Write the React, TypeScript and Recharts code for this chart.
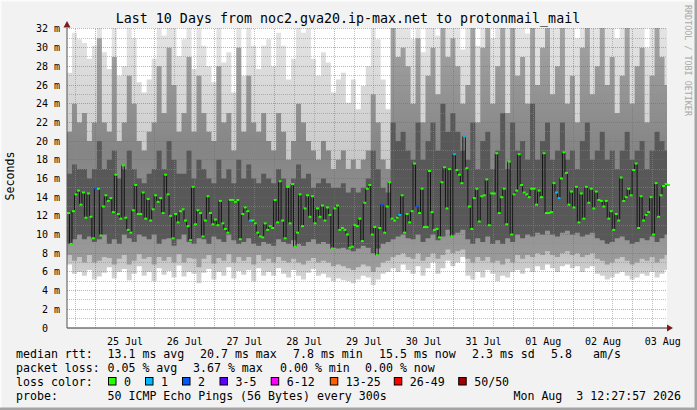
import React from 'react';
import {
  ComposedChart,
  Area,
  Line,
  XAxis,
  YAxis,
  CartesianGrid,
  ReferenceLine,
} from 'recharts';

// median rtt per hourly sample (ms), Jul 24 ~13:00 -> Aug 3 ~13:00
const medianRtt = [
  12.3, 9.0, 12.5, 14.3, 14.7, 13.2, 14.5, 11.8, 14.4, 11.9, 9.6, 14.9, 14.9, 9.9, 13.0, 14.2, 13.6, 13.9, 12.4, 16.4,
  12.2, 11.7, 17.4, 11.8, 10.5, 10.2, 12.6, 15.3, 12.2, 12.2, 14.5, 11.7, 13.8, 11.5, 12.7, 14.2, 13.5, 13.9, 12.3, 16.4,
  14.3, 12.0, 9.6, 12.2, 11.3, 12.5, 12.7, 11.5, 10.9, 9.4, 15.1, 11.1, 12.6, 12.3, 9.8, 11.5, 14.1, 12.3, 11.1, 11.6,
  11.0, 13.6, 11.2, 10.6, 10.2, 13.7, 13.7, 13.5, 13.7, 9.5, 12.2, 12.9, 12.5, 11.5, 11.5, 11.2, 10.2, 9.8, 9.7, 11.2,
  10.5,
  10.9, 10.7, 13.7, 11.3, 15.7, 11.5, 9.6, 15.1, 11.2, 15.4, 8.7, 10.2, 14.3, 10.9, 12.8, 14.2, 11.9, 14.1, 11.2,
  12.8, 11.9, 13.1, 11.5, 12.9, 12.1, 8.5, 12.8, 13.1, 10.5, 10.7, 10.5, 10.0, 8.6, 8.7, 11.0, 10.9, 11.7, 9.3, 13.4,
  14.9, 15.3, 10.0, 10.8, 7.8, 10.7, 13.2, 10.2, 13.0, 15.6, 11.7, 11.5, 11.8, 12.1, 14.2, 10.2, 12.2, 11.3, 12.5, 17.6,
  13.0, 12.3, 14.9, 10.8, 10.8, 16.8, 12.4, 10.5, 10.6, 9.7, 15.6, 17.2, 12.8, 17.0, 9.8, 18.6, 16.9, 16.4, 15.5, 20.5,
  17.1,
  13.0, 10.6, 13.9, 14.9, 11.4, 14.1, 14.2, 15.9, 11.0, 14.4, 14.4, 18.7, 12.3, 14.0, 14.9, 11.1, 17.8, 10.0, 14.3, 14.7,
  18.6, 15.3, 14.5, 14.3, 14.0, 14.9, 14.9, 13.2, 14.7, 14.0, 18.7, 12.3, 12.3, 12.4, 15.5, 14.5, 13.9, 16.0, 18.8, 16.6,
  13.2, 14.6, 12.9, 15.1, 11.3, 14.4, 11.7, 15.1, 13.4, 14.9, 12.8, 14.6, 13.7, 13.6, 13.0, 13.6, 11.7, 12.5, 10.5, 12.2,
  11.5, 16.1, 13.6, 14.0, 14.9, 14.2, 16.9, 17.6, 10.7, 14.1, 11.5, 12.1, 12.4, 14.0, 10.0, 15.5, 11.9, 14.2, 15.2, 15.4,
  15.3,
];

// samples with lost pings (index into medianRtt) and how many of 50 were lost
const lossSample = [11, 73, 126, 133, 140, 155, 159, 196, 197];
const lossPings = [2, 1, 2, 1, 2, 1, 1, 1, 1];

// smoke, one column per two samples (ms)
const smokeMax = [
  27.3, 31.6, 30.9, 30.5, 28.8, 30.2, 32.1, 29.5, 27.7, 32.1, 27, 28, 32.1, 31, 26.3, 25.2, 26.6, 28.8, 32.1, 31.3,
  32.1, 32.1, 29.1, 30.9, 32.1, 27.7, 32.1, 30.2, 28, 26.3, 32.1, 28.4, 29.5, 25.2, 32.1, 27, 32.1, 30.2, 27.7, 30.2,
  30.9, 28, 31.6, 30.2, 26.6, 28.8, 32.1, 31.6, 32.1, 28.8, 27, 29.5, 28.4, 25.2, 26.6, 27.3, 24.1, 26.6, 23.4, 25.9,
  28, 32.1, 30.9, 26.6, 23.4, 32.1, 32.1, 32.1, 32.1, 30.9, 32.1, 29.5, 32.1, 32.1, 31.3, 32.1, 32.1, 32.1, 32.1, 29.8,
  32.1, 32.1, 30.2, 32.1, 32.1, 31, 32.1, 32.1, 32.1, 32.1, 32.1, 32.1, 31.5, 32.1, 32.1, 32.1, 32.1, 32.1, 32.1, 32.1,
  32.1, 32.1, 31, 32.1, 32.1, 32.1, 32.1, 32.1, 32.1, 32.1, 31, 32.1, 32.1, 32.1, 32.1, 32.1, 30, 32.1, 32.1, 32.1,
  32.1,
];
const smokeMidHi = [
  21, 24, 22, 23, 20, 22, 31, 22, 21, 29, 20, 22, 27, 24, 20, 19, 21, 22, 28, 23,
  30, 26, 21, 23, 29, 21, 27, 23, 21, 20, 28, 22, 23, 19, 30, 21, 27, 22, 21, 23,
  20, 19, 23, 21, 18, 20, 24, 22, 20, 19, 18, 20, 19, 17, 18, 19, 17, 18, 17, 18,
  19, 25, 22, 18, 17, 32.1, 29, 30, 28, 24, 31, 22, 27, 30, 25, 32.1, 29, 31, 28, 24,
  26, 32.1, 22, 30, 32.1, 24, 28, 32.1, 23, 32.1, 27, 29, 24, 32.1, 26, 30, 32.1, 25, 28, 32.1,
  24, 27, 22, 30, 32.1, 25, 28, 32.1, 26, 29, 23, 27, 32.1, 24, 28, 30, 22, 27, 32.1, 29,
  26,
];
const smokeCoreHi = [
  16.5, 17.5, 17, 17, 16, 17, 20, 17, 18, 19, 16, 17, 19, 17, 16, 15.5, 16.5, 17, 19, 17,
  20, 18, 16.5, 16.5, 19, 16, 18, 17, 16, 15.5, 18, 16, 17, 15.5, 18, 16, 17.5, 16, 15.5, 16.5,
  16, 15.5, 17, 16, 15, 16, 17.5, 16, 16.5, 15, 15.5, 16, 15.5, 15, 15, 15.5, 14.5, 15, 14.5, 15,
  16, 19, 17, 15, 14.5, 22, 20, 21, 19, 18, 22, 18, 20, 22, 19, 24, 21, 23, 21, 19,
  18, 22, 17, 20, 21, 17, 19, 23, 17, 22, 19, 20, 18, 24, 18, 20, 22, 18, 19, 22,
  18, 19, 17, 20, 22, 18, 19, 21, 18, 19, 17, 19, 21, 18, 19, 20, 17, 19, 21, 20,
  19,
];
const smokeCoreLo = [
  9.0, 9.5, 10, 9.5, 9.8, 9.2, 9.5, 10, 9.0, 9.5, 9.0, 10, 9.6, 9.2, 10, 9.8, 9.5, 10, 9.0, 9.5,
  9.6, 8.8, 9.5, 10, 9.2, 9.0, 9.6, 9.5, 9.0, 9.8, 9.5, 9.2, 10, 9.4, 9.0, 9.2, 9.6, 9.0, 8.8, 9.2,
  9.0, 8.8, 9.5, 9.2, 9.0, 9.4, 9.0, 8.8, 9.2, 9.5, 9.0, 9.2, 9.0, 8.6, 8.5, 8.6, 8.4, 8.2, 8.5, 8.8,
  8.6, 8.0, 8.5, 9.0, 9.2, 9.5, 9.8, 10, 9.6, 9.5, 10, 9.2, 9.6, 10, 9.4, 9.8, 10.5, 10, 10.2, 10.5,
  9.5, 9.0, 9.6, 9.2, 9.8, 9.0, 9.4, 9.0, 9.6, 9.2, 10, 9.6, 10, 9.8, 10.2, 10, 10.4, 10, 9.8, 10.2,
  10.4, 10, 10.2, 9.8, 10, 10.2, 9.6, 9.4, 9.0, 9.2, 9.6, 9.8, 9.4, 9.0, 9.2, 9.6, 9.4, 9.8, 9.2, 9.6,
  10,
];
const smokeMidLo = [
  7.8, 7.2, 7.6, 7.0, 7.8, 7.0, 7.2, 7.6, 7.5, 6.8, 7.4, 7.8, 6.8, 7.2, 7.9, 7.4, 7.6, 6.8, 7.6, 7.2,
  7.6, 7.0, 7.9, 7.0, 7.5, 7.4, 6.5, 7.4, 7.8, 6.9, 7.5, 7.2, 7.9, 7.0, 7.6, 7.2, 7.6, 6.8, 7.8, 7.2,
  7.4, 7.0, 7.6, 7.2, 7.0, 7.4, 7.0, 6.8, 7.2, 7.5, 7.0, 7.2, 7.0, 6.6, 6.8, 6.6, 6.4, 6.2, 6.5, 6.8,
  6.6, 6.0, 6.5, 7.0, 7.2, 7.6, 7.8, 8.0, 7.6, 7.4, 8.0, 7.2, 7.6, 8.0, 7.4, 7.8, 8.4, 8.0, 8.2, 8.4,
  7.4, 7.0, 7.6, 7.2, 7.6, 7.0, 7.2, 6.8, 7.4, 7.0, 7.8, 7.4, 7.8, 7.6, 8.0, 7.8, 8.2, 7.8, 7.6, 8.0,
  8.2, 7.8, 8.0, 7.6, 7.8, 8.0, 7.4, 7.2, 6.8, 7.0, 7.4, 7.6, 7.2, 6.8, 7.0, 7.4, 7.2, 7.6, 7.0, 7.4,
  7.8,
];
const smokeMin = [
  6.8, 5.8, 6.0, 5.6, 6.2, 5.2, 5.5, 5.9, 6.5, 5.3, 6.0, 6.3, 5.1, 5.8, 6.6, 5.6, 6.0, 5.0, 6.4, 5.7,
  6.1, 5.4, 6.7, 5.5, 6.0, 5.8, 4.8, 5.9, 6.3, 5.2, 6.0, 5.6, 6.5, 5.3, 6.1, 5.7, 6.2, 5.0, 6.4, 5.6,
  6.0, 5.6, 6.4, 5.8, 5.4, 6.2, 5.6, 5.2, 5.9, 6.3, 5.6, 5.8, 5.4, 5.0, 5.3, 5.1, 5.0, 4.8, 5.2, 5.6,
  5.4, 4.6, 5.2, 5.8, 6.0, 6.4, 6.0, 6.8, 6.2, 5.8, 6.6, 5.6, 6.4, 7.0, 5.8, 6.4, 7.2, 6.6, 7.0, 7.6,
  5.6, 5.2, 6.0, 5.4, 6.2, 5.8, 5.0, 5.6, 5.4, 6.0, 6.2, 5.8, 6.4, 6.0, 6.6, 6.2, 6.8, 6.4, 6.0, 6.6,
  6.8, 6.4, 6.6, 6.0, 6.4, 6.6, 5.8, 5.6, 5.2, 5.4, 5.8, 6.0, 5.6, 5.2, 5.4, 5.8, 5.6, 6.0, 5.4, 5.8,
  6.2,
];

const dayLabels = ['25 Jul', '26 Jul', '27 Jul', '28 Jul', '29 Jul', '30 Jul', '31 Jul', '01 Aug', '02 Aug', '03 Aug'];
const firstMidnight = 11.3; // hours from left edge to 25 Jul 00:00
const yTicks = [0, 2, 4, 6, 8, 10, 12, 14, 16, 18, 20, 22, 24, 26, 28, 30, 32];
const yMinor = [1, 3, 5, 7, 9, 11, 13, 15, 17, 19, 21, 23, 25, 27, 29, 31];

const lossLegend = [
  { label: '0', color: '#26ff00', x: 108 },
  { label: '1', color: '#00b8ff', x: 145 },
  { label: '2', color: '#0059ff', x: 182 },
  { label: '3-5', color: '#5e00ff', x: 219.5 },
  { label: '6-12', color: '#ff00ff', x: 270.7 },
  { label: '13-25', color: '#ff5e00', x: 329.8 },
  { label: '26-49', color: '#ff0000', x: 393.8 },
  { label: '50/50', color: '#a10000', x: 458.2 },
];
const lossColor = ['#26ff00', '#00b8ff', '#0059ff'];

const dayLines = dayLabels.map((_, k) => firstMidnight + 24 * k);
const dayTicks = dayLabels.map((_, k) => firstMidnight + 12 + 24 * k);
const minorLines: number[] = [];
for (let h = firstMidnight - 8; h < 241; h += 8) {
  if (h > 0 && Math.round((h - firstMidnight) / 8) % 3 !== 0) minorLines.push(h);
}

const rows = medianRtt.map((m, i) => {
  const c = Math.floor(i / 2);
  const li = lossSample.indexOf(i);
  return {
    t: i,
    median: m,
    loss: li >= 0 ? lossPings[li] : 0,
    outer: [smokeMin[c], smokeMax[c]],
    mid: [smokeMidLo[c], smokeMidHi[c]],
    core: [smokeCoreLo[c], smokeCoreHi[c]],
  };
});

const MONO = '"DejaVu Sans Mono", monospace';
const PLOT_LEFT = 67;
const X_DOMAIN: [number, number] = [0, 241];
const Y_DOMAIN: [number, number] = [0, 32.1];

const YTick = ({ y, payload }: any) => (
  <g fontFamily={MONO} fontSize={10} fill="#000">
    <text x={PLOT_LEFT - 19} y={y + 3.5} textAnchor="end">{payload.value}</text>
    {payload.value > 0 && <text x={PLOT_LEFT - 13} y={y + 3.5}>m</text>}
  </g>
);

const XTick = ({ x, y, payload }: any) => (
  <text x={x} y={y + 9} textAnchor="middle" fontFamily={MONO} fontSize={10} fill="#000">
    {dayLabels[dayTicks.indexOf(payload.value)]}
  </text>
);

const MedianDot = (p: any) => (
  <rect key={p.index} x={p.cx} y={p.cy - 1} width={3} height={2} fill={lossColor[p.payload.loss] || '#26ff00'} />
);

const legendRows = [
  { y: 358, items: [[16, 'median rtt:'], [107.5, '13.1 ms avg'], [200, '20.7 ms max'], [293, '7.8 ms min'], [379, '15.5 ms now'], [472, '2.3 ms sd'], [551, '5.8'], [593, 'am/s']] },
  { y: 372, items: [[16, 'packet loss:'], [107.5, '0.05 % avg'], [193, '3.67 % max'], [280, '0.00 % min'], [365, '0.00 % now']] },
  { y: 385.5, items: [[16, 'loss color:']] },
  { y: 400, items: [[16, 'probe:'], [107.5, '50 ICMP Echo Pings (56 Bytes) every 300s']] },
];

const layer: React.CSSProperties = { position: 'absolute', left: 0, top: 0 };
const minorGrid = { stroke: '#8c8c8c', strokeOpacity: 0.55, strokeDasharray: '1 1', shapeRendering: 'crispEdges' } as any;
const majorGrid = { stroke: '#e03a3a', strokeOpacity: 0.5, strokeDasharray: '1 1', shapeRendering: 'crispEdges' } as any;

export default function App() {
  return (
    <div style={{ position: 'absolute', left: 0, top: 0, width: 697, height: 410, background: '#f2f2f2', overflow: 'hidden' }}>
      <svg width={0} height={0} style={{ position: 'absolute' }}>
        <defs>
          <linearGradient id="smokeOuter" x1="0" y1="0" x2="0" y2="1">
            <stop offset="0" stopColor="#e4e4e4" />
            <stop offset="0.4" stopColor="#d0d0d0" />
            <stop offset="0.65" stopColor="#bdbdbd" />
            <stop offset="0.88" stopColor="#c2c2c2" />
            <stop offset="1" stopColor="#d8d8d8" />
          </linearGradient>
          <linearGradient id="smokeMid" x1="0" y1="0" x2="0" y2="1">
            <stop offset="0" stopColor="#a4a4a4" />
            <stop offset="0.5" stopColor="#858585" />
            <stop offset="1" stopColor="#9c9c9c" />
          </linearGradient>
        </defs>
      </svg>

      {/* smoke and axes */}
      <div style={layer}>
        <ComposedChart width={697} height={410} data={rows} margin={{ top: 28, right: 30, bottom: 52, left: 7 }}>
          <CartesianGrid horizontal={false} vertical={false} fill="#ffffff" />
          <XAxis
            type="number"
            dataKey="t"
            domain={X_DOMAIN}
            ticks={dayTicks}
            tick={<XTick />}
            tickLine={false}
            axisLine={{ stroke: '#303030' }}
            height={30}
            interval={0}
          />
          <YAxis
            type="number"
            domain={Y_DOMAIN}
            ticks={yTicks}
            tick={<YTick />}
            tickLine={false}
            axisLine={{ stroke: '#505050' }}
            width={60}
            interval={0}
          />
          <Area type="stepAfter" dataKey="outer" stroke="none" fill="url(#smokeOuter)" fillOpacity={1} isAnimationActive={false} />
          <Area type="stepAfter" dataKey="mid" stroke="none" fill="url(#smokeMid)" fillOpacity={1} isAnimationActive={false} />
          <Area type="stepAfter" dataKey="core" stroke="none" fill="#585858" fillOpacity={1} isAnimationActive={false} />
        </ComposedChart>
      </div>

      {/* grid on top of the smoke, then the median */}
      <div style={layer}>
        <ComposedChart width={697} height={410} data={rows} margin={{ top: 28, right: 30, bottom: 82, left: 67 }}>
          <XAxis type="number" dataKey="t" domain={X_DOMAIN} hide />
          <YAxis type="number" domain={Y_DOMAIN} hide />
          {yMinor.map((v) => (
            <ReferenceLine key={'ym' + v} y={v} {...minorGrid} />
          ))}
          {minorLines.map((v) => (
            <ReferenceLine key={'xm' + v} x={v} {...minorGrid} />
          ))}
          {yTicks.filter((v) => v > 0).map((v) => (
            <ReferenceLine key={'yM' + v} y={v} {...majorGrid} />
          ))}
          {dayLines.map((v) => (
            <ReferenceLine key={'xM' + v} x={v} {...majorGrid} />
          ))}
          <Line
            type="stepAfter"
            dataKey="median"
            stroke="#151515"
            strokeWidth={1}
            dot={MedianDot}
            activeDot={false}
            isAnimationActive={false}
          />
        </ComposedChart>
      </div>

      <svg width={697} height={410} style={{ ...layer, pointerEvents: 'none' }} fontFamily={MONO}>
        <rect x={0} y={0} width={697} height={1.5} fill="#fbfbfb" />
        <rect x={0} y={0} width={1.5} height={410} fill="#fbfbfb" />
        <rect x={694.5} y={0} width={2.5} height={410} fill="#a4a4a4" />
        <rect x={0} y={407.5} width={697} height={2.5} fill="#a4a4a4" />
        <text x={348} y={23} textAnchor="middle" fontSize={13.3} fill="#000">
          Last 10 Days from noc2.gva20.ip-max.net to protonmail_mail
        </text>
        <text x={0} y={0} transform="translate(14 176) rotate(-90)" textAnchor="middle" fontSize={11.6} fill="#000">
          Seconds
        </text>
        <text x={0} y={0} transform="translate(685 5) rotate(90)" fontSize={8.4} fill="#a8a8a8">
          RRDTOOL / TOBI OETIKER
        </text>
        <polygon points="67,21 63.5,27.5 70.5,27.5" fill="#7e1c1c" />
        <polygon points="673,328 667,324.5 667,331.5" fill="#7e1c1c" />
        {legendRows.map((r) =>
          r.items.map(([x, s]) => (
            <text key={r.y + '-' + x} x={x as number} y={r.y} fontSize={11.6} fill="#000">
              {s}
            </text>
          ))
        )}
        {lossLegend.map((l) => (
          <g key={l.label}>
            <rect x={l.x + 0.5} y={377.5} width={7.5} height={7.5} fill={l.color} stroke="#000" strokeWidth={1} />
            <text x={l.x + 16} y={385.5} fontSize={11.6} fill="#000">{l.label}</text>
          </g>
        ))}
        <text x={681} y={400} textAnchor="end" fontSize={11.6} fill="#000">
          {'Mon Aug \u00a03 12:27:57 2026'}
        </text>
      </svg>
    </div>
  );
}
